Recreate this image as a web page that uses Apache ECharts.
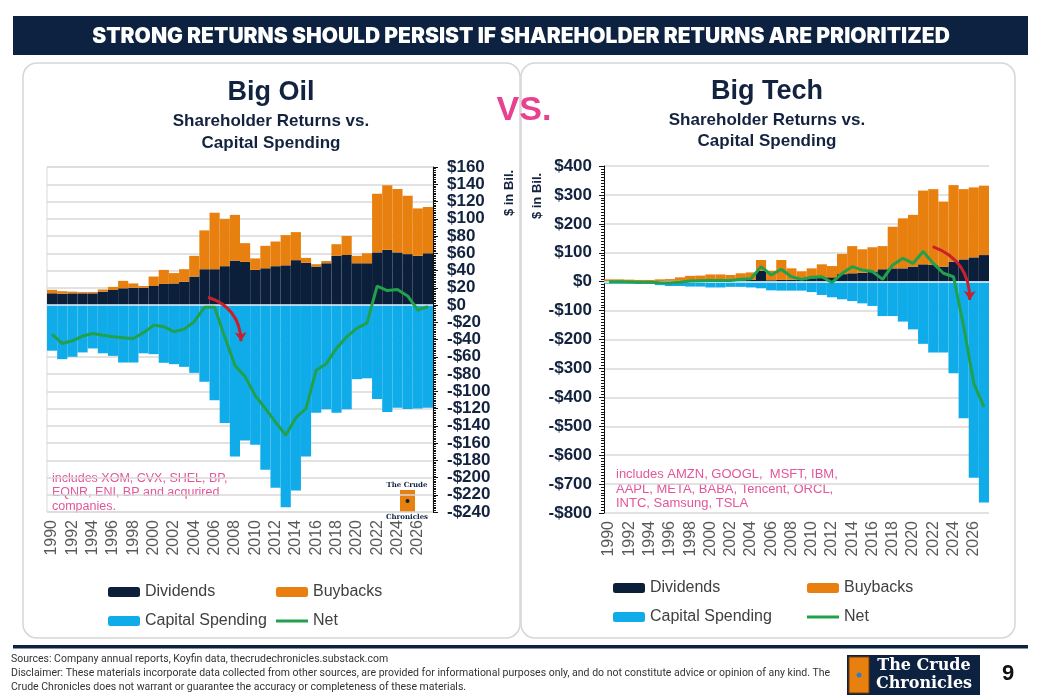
<!DOCTYPE html>
<html>
<head>
<meta charset="utf-8">
<title>Big Oil vs. Big Tech</title>
<script src="https://cdn.jsdelivr.net/npm/echarts@6/dist/echarts.min.js"></script>
<style>
    html, body { margin: 0; padding: 0; background: #fff; }
    #main { width: 1037px; height: 697px; }
</style>
</head>
<body>
<div id="main"></div>
<script>
// categories
var years = ['1990', '1991', '1992', '1993', '1994', '1995', '1996', '1997', '1998', '1999',
    '2000', '2001', '2002', '2003', '2004', '2005', '2006', '2007', '2008', '2009',
    '2010', '2011', '2012', '2013', '2014', '2015', '2016', '2017', '2018', '2019',
    '2020', '2021', '2022', '2023', '2024', '2025', '2026', '2027'];

// Big Oil, $ bil.
var oilDividends = [13.6, 13, 13.5, 13.5, 13.5, 15.5, 17.4, 19.4, 20, 20,
    22, 24.4, 25, 27, 33, 41.5, 41.5, 45, 51.5, 50,
    40.7, 42.6, 45, 46, 52, 49, 44.6, 48.4, 57, 58,
    48.4, 48.4, 61, 64, 61, 59, 57, 60];
var oilBuybacks = [4, 3, 2, 1.5, 1.5, 2.5, 3.6, 8.6, 5, 2,
    11, 16.3, 12, 14.5, 24, 45, 65.5, 54.6, 53, 21.7,
    13.3, 26, 28.6, 35, 32.5, 5.6, 2.7, 2.6, 13.5, 22,
    8.6, 11.6, 68, 74.8, 73.5, 67.7, 55, 53.6];
var oilCapex = [-53, -62.8, -60, -55, -50.4, -56, -59, -66.7, -66.7, -56,
    -57, -67, -68.6, -71.7, -78.7, -89, -110.5, -136.8, -175.6, -157,
    -162, -191, -212, -234.5, -215, -175.6, -125, -121, -125, -121,
    -86, -85, -109, -124, -119, -120.5, -120, -119];
var oilNet = [-34, -44.6, -41.5, -36, -33, -35, -36.8, -38, -38.8, -32,
    -23.6, -25, -31, -28, -19.4, -2.7, -2.7, -37, -70, -83,
    -105, -120, -135.7, -151, -130.6, -120, -75.6, -68, -50, -37,
    -27, -21, 22, 16.7, 18, 10.5, -5.8, -2];

// Big Tech, $ bil.
var techDividends = [2, 2, 2, 2, 2, 2, 3, 3, 3, 3,
    4, 4, 4, 5, 6, 38, 5, 6, 7, 8,
    12, 15, 15, 26, 29, 31, 35, 43, 46, 46,
    52, 60, 58, 52, 69, 77, 84, 92];
var techBuybacks = [6, 6, 5, 4, 4, 6, 6, 12, 17, 18,
    21, 21, 19, 24, 26, 37, 33, 69, 39, 28,
    34, 45, 39, 70, 94, 81, 84, 80, 144, 173,
    179, 255, 262, 225, 265, 243, 242, 240];
var techCapex = [-7, -7, -7, -8, -8, -12, -15, -15, -17, -17,
    -20, -20, -18, -18, -20, -23, -30, -31, -31, -31,
    -36, -46, -54, -61, -67, -75, -84, -119, -119, -138,
    -165, -215, -245, -245, -317, -472, -678, -764];
var techNet = [0, 0, -1, -2, -2, -4, -5, -2, 2, 3,
    4, 4, 4, 8, 10, 52, 23, 43, 17, 8,
    15, 17, -3, 29, 52, 40, 35, 8, 58, 81,
    63, 104, 63, 29, 17, -155, -352, -433];

// red arrows, [position along the years, value]
var oilArrow = [[15.85, 9], [19.1, -42]];
var techArrow = [[32.45, 121], [36.1, -63]];

var navy = '#0d2240';
var cDiv = '#0c1f3a';
var cBuy = '#e8800f';
var cCapex = '#10acea';
var cNet = '#21a14b';
var cArrow = '#c8202c';
var cPink = '#e4559b';

var myChart = echarts.init(document.getElementById('main'));

function money(v) {
    return v < 0 ? '-$' + (-v) : '$' + v;
}

function catAxis(g) {
    return {
        gridIndex: g,
        type: 'category',
        data: years,
        axisLine: {show: false, onZero: false},
        axisTick: {show: false},
        axisLabel: {
            interval: 1, rotate: 90, margin: 8,
            color: '#595959', fontSize: 16, fontFamily: 'Arial'
        }
    };
}

// hidden helper axis for the arrows
function posAxis(g) {
    return {gridIndex: g, type: 'value', min: 0, max: 38, show: false};
}

function valAxis(g, pos, min, max, step, margin) {
    return {
        gridIndex: g,
        type: 'value',
        position: pos,
        min: min, max: max, interval: step,
        axisLine: {show: true, onZero: false, lineStyle: {color: '#111', width: 1}},
        axisTick: {show: true, length: 5, lineStyle: {color: '#111'}},
        minorTick: {show: true, splitNumber: 10, length: 3, lineStyle: {color: '#111'}},
        splitLine: {lineStyle: {color: '#d9d9d9', width: 1.5}},
        axisLabel: {
            formatter: money, margin: margin,
            color: '#13233f', fontSize: 17, fontWeight: 'bold', fontFamily: 'Arial'
        }
    };
}

function legendItem(name, left, top) {
    var item = {
        data: [name], left: left, top: top, padding: 0,
        itemWidth: 32, itemHeight: 10, itemGap: 0,
        selectedMode: false,
        textStyle: {fontSize: 16, color: '#404040', fontFamily: 'Arial'}
    };
    // Net is shown as a plain line
    if (name === 'Net') {
        item.data = [{name: 'Net', icon: 'rect'}];
        item.itemHeight = 3;
        item.itemStyle = {color: cNet};
    }
    return item;
}

function barSeries(name, data, color, g) {
    return {
        name: name, type: 'bar', stack: 'st' + g,
        xAxisIndex: g, yAxisIndex: g,
        barCategoryGap: '0%',
        itemStyle: {color: color},
        data: data
    };
}

function text(str, x, y, font, fill, align) {
    return {
        type: 'text', x: x, y: y,
        style: {text: str, font: font, fill: fill, textAlign: align || 'center', textVerticalAlign: 'middle'}
    };
}

var option = {
    animation: false,
    backgroundColor: '#fff',
    grid: [
        {left: 47, top: 167, width: 386, height: 345, show: true, borderColor: '#d9d9d9', borderWidth: 1},
        {left: 604, top: 166, width: 385, height: 347}
    ],
    xAxis: [catAxis(0), catAxis(1), posAxis(0), posAxis(1)],
    yAxis: [
        valAxis(0, 'right', -240, 160, 20, 14),
        valAxis(1, 'left', -800, 400, 100, 12)
    ],
    legend: [
        legendItem('Dividends', 108, 584),
        legendItem('Buybacks', 276, 584),
        legendItem('Capital Spending', 108, 613),
        legendItem('Net', 276, 613),
        legendItem('Dividends', 613, 580),
        legendItem('Buybacks', 807, 580),
        legendItem('Capital Spending', 613, 609),
        legendItem('Net', 807, 609)
    ],
    graphic: [
        // header
        {type: 'rect', shape: {x: 13, y: 16, width: 1015, height: 39}, style: {fill: navy}},
        text('STRONG RETURNS SHOULD PERSIST IF SHAREHOLDER RETURNS ARE PRIORITIZED', 521, 37, '900 21px Inter', '#fff'),
        // panels
        {type: 'rect', shape: {x: 23, y: 63, width: 497, height: 575, r: 14}, style: {fill: 'none', stroke: '#d6d6d6', lineWidth: 1.5}},
        {type: 'rect', shape: {x: 521, y: 63, width: 494, height: 575, r: 14}, style: {fill: 'none', stroke: '#d6d6d6', lineWidth: 1.5}},
        // titles
        text('Big Oil', 271, 93, 'bold 27px Arial', '#13233f'),
        text('Shareholder Returns vs.', 271, 121, 'bold 17px Arial', '#13233f'),
        text('Capital Spending', 271, 143, 'bold 17px Arial', '#13233f'),
        text('Big Tech', 767, 92, 'bold 27px Arial', '#13233f'),
        text('Shareholder Returns vs.', 767, 120, 'bold 17px Arial', '#13233f'),
        text('Capital Spending', 767, 141, 'bold 17px Arial', '#13233f'),
        text('VS.', 524, 111, 'bold 34px Arial', '#e8418f'),
        // unit labels
        {type: 'text', x: 509, y: 193, rotation: Math.PI / 2,
            style: {text: '$ in Bil.', font: 'bold 13px Arial', fill: '#13233f', textAlign: 'center', textVerticalAlign: 'middle'}},
        {type: 'text', x: 537, y: 196, rotation: Math.PI / 2,
            style: {text: '$ in Bil.', font: 'bold 13px Arial', fill: '#13233f', textAlign: 'center', textVerticalAlign: 'middle'}},
        // notes
        text('includes XOM, CVX, SHEL, BP,', 52, 479, '12.5px Arial', cPink, 'left'),
        text('EQNR, ENI, BP and acqurired', 52, 493, '12.5px Arial', cPink, 'left'),
        text('companies.', 52, 507, '12.5px Arial', cPink, 'left'),
        text('includes AMZN, GOOGL,  MSFT, IBM,', 616, 474, '13px Arial', cPink, 'left'),
        text('AAPL, META, BABA, Tencent, ORCL,', 616, 489, '13px Arial', cPink, 'left'),
        text('INTC, Samsung, TSLA', 616, 503, '13px Arial', cPink, 'left'),
        // small logo in left plot
        text('The Crude', 407, 485, 'bold 7px "DejaVu Serif"', navy),
        {type: 'rect', shape: {x: 400, y: 490, width: 15, height: 22}, style: {fill: cBuy}},
        {type: 'circle', shape: {cx: 407.5, cy: 501, r: 2}, style: {fill: navy}},
        text('Chronicles', 407, 517, 'bold 7px "DejaVu Serif"', navy),
        // footer
        {type: 'rect', shape: {x: 13, y: 645, width: 1015, height: 3.5}, style: {fill: navy}},
        text('Sources: Company annual reports, Koyfin data, thecrudechronicles.substack.com', 11, 659, '10.5px Roboto', '#333', 'left'),
        text('Disclaimer: These materials incorporate data collected from other sources, are provided for informational purposes only, and do not constitute advice or opinion of any kind. The', 11, 673, '10.5px Roboto', '#333', 'left'),
        text('Crude Chronicles does not warrant or guarantee the accuracy or completeness of these materials.', 11, 687, '10.5px Roboto', '#333', 'left'),
        {type: 'rect', shape: {x: 847, y: 655, width: 133, height: 40}, style: {fill: navy}},
        {type: 'rect', shape: {x: 849, y: 657, width: 20, height: 36}, style: {fill: cBuy, stroke: '#7a3e05', lineWidth: 1}},
        {type: 'circle', shape: {cx: 859, cy: 675, r: 2.5}, style: {fill: '#2d7fc1'}},
        text('The Crude', 924, 666, 'bold 16px "DejaVu Serif"', '#fff'),
        text('Chronicles', 924, 684, 'bold 16px "DejaVu Serif"', '#fff'),
        text('9', 1008, 674, 'bold 22px Arial', '#111')
    ],
    series: [
        barSeries('Dividends', oilDividends, cDiv, 0),
        barSeries('Buybacks', oilBuybacks, cBuy, 0),
        {
            name: 'Capital Spending', type: 'bar', stack: 'st0',
            xAxisIndex: 0, yAxisIndex: 0, barCategoryGap: '0%',
            itemStyle: {color: cCapex},
            data: oilCapex,
            markLine: {
                silent: true, symbol: 'none', label: {show: false},
                lineStyle: {color: '#e6f4fb', width: 1.5, type: 'solid'},
                data: [{yAxis: 0}]
            }
        },
        {
            name: 'Net', type: 'line', xAxisIndex: 0, yAxisIndex: 0, z: 5,
            symbol: 'none', lineStyle: {color: cNet, width: 3}, itemStyle: {color: cNet},
            data: oilNet
        },
        {
            type: 'lines', coordinateSystem: 'cartesian2d', xAxisIndex: 2, yAxisIndex: 0, z: 6,
            symbol: ['none', 'arrow'], symbolSize: 9,
            lineStyle: {color: cArrow, width: 3, curveness: 0.35, opacity: 1},
            data: [{coords: oilArrow}]
        },
        barSeries('Dividends', techDividends, cDiv, 1),
        barSeries('Buybacks', techBuybacks, cBuy, 1),
        {
            name: 'Capital Spending', type: 'bar', stack: 'st1',
            xAxisIndex: 1, yAxisIndex: 1, barCategoryGap: '0%',
            itemStyle: {color: cCapex},
            data: techCapex,
            markLine: {
                silent: true, symbol: 'none', label: {show: false},
                lineStyle: {color: '#e6f4fb', width: 1.5, type: 'solid'},
                data: [{yAxis: 0}]
            }
        },
        {
            name: 'Net', type: 'line', xAxisIndex: 1, yAxisIndex: 1, z: 5,
            symbol: 'none', lineStyle: {color: cNet, width: 3}, itemStyle: {color: cNet},
            data: techNet
        },
        {
            type: 'lines', coordinateSystem: 'cartesian2d', xAxisIndex: 3, yAxisIndex: 1, z: 6,
            symbol: ['none', 'arrow'], symbolSize: 9,
            lineStyle: {color: cArrow, width: 3, curveness: 0.35, opacity: 1},
            data: [{coords: techArrow}]
        }
    ]
};

myChart.setOption(option);
</script>
</body>
</html>
